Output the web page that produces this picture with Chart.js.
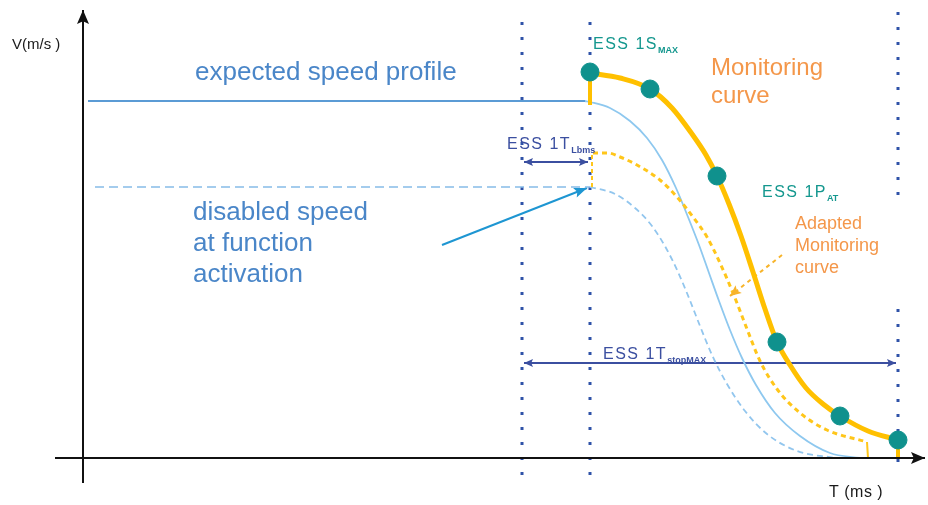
<!DOCTYPE html>
<html>
<head>
<meta charset="utf-8">
<script src="https://cdn.jsdelivr.net/npm/chart.js@4.4.1/dist/chart.umd.min.js"></script>
<style>
  html, body { margin: 0; padding: 0; background: #ffffff; }
  #wrap { width: 928px; height: 505px; position: relative; }
</style>
</head>
<body>
<div id="wrap"><canvas id="c"></canvas></div>
<script>
// Time axis (x) and speed axis (y) in drawing units, origin at the axis crossing.

// Expected speed profile: constant level, then braking curve
const expectedLevel = [[5, 357], [502, 357]];
const expectedCurve = [[502, 357], [507, 356], [527, 350], [547, 337], [564, 320], [579, 298],
  [593, 270], [605, 241], [616, 213], [626, 185], [636, 157], [647, 128], [659, 100],
  [673, 73], [692, 45], [717, 22], [747, 5], [777, 0]];

// Disabled speed at function activation
const disabledLevel = [[12, 271], [507, 271]];
const disabledCurve = [[507, 271], [532, 264], [552, 250], [569, 232], [583, 210], [595, 186],
  [606, 160], [617, 132], [629, 103], [644, 74], [662, 47], [684, 24], [714, 7], [752, 0]];

// Monitoring curve and its support points
const monitorStart = [[507, 353], [507, 385]];
const monitorCurve = [[507, 385], [537, 380], [567, 369], [589, 350], [609, 324], [623, 303],
  [634, 282], [646, 254], [658, 222], [670, 186], [682, 149], [694, 116], [707, 93],
  [723, 70], [740, 54], [757, 42], [785, 27], [815, 18]];
const monitorEnd = [[815, 18], [815, 0]];
const monitorPoints = [[507, 386], [567, 369], [634, 282], [694, 116], [757, 42], [815, 18]];

// Adapted monitoring curve
const adaptedStart = [[509, 271], [509, 305]];
const adaptedCurve = [[510, 305], [525, 305], [537, 301], [554, 293], [577, 278], [594, 261],
  [610, 241], [624, 221], [637, 195], [650, 165], [664, 129], [677, 97], [694, 69],
  [717, 45], [744, 28], [784, 16]];
const adaptedEnd = [[784, 16], [785, 0]];

// Time markers (vertical dotted guides)
const guideActivation = [[439, -17], [439, 440]];
const guideDelay = [[507, -17], [507, 443]];
const guideStopTop = [[815, 263], [815, 446]];
const guideStopBottom = [[815, -4], [815, 160]];

// Dimension spans
const spanDelay = [[441, 296], [505, 296]];
const spanStop = [[441, 95], [813, 95]];

// Pointer arrows
const pointerDisabled = [[359, 213], [504, 270]];
const pointerAdapted = [[699, 203], [647, 162]];

// Axes
const axisV = [[0, -25], [0, 448]];
const axisT = [[-28, 0], [842, 0]];

const pts = a => a.map(p => ({ x: p[0], y: p[1] }));

const FONT = '"Liberation Sans", Arial, sans-serif';
const BLUE_TXT = '#4a86c8';
const ORANGE = '#f4974a';
const TEAL = '#14978e';
const NAVY = '#3b4fa0';
const YELLOW = '#ffc000';
const GUIDE = '#2f52a8';

const texts = [
  { t: 'V(m/s )', x: -71, y: 413, size: 15, color: '#1a1a1a' },
  { t: 'T (ms )', x: 746, y: -35, size: 16, color: '#1a1a1a', ls: 0.5 },
  { t: 'expected speed profile', x: 112, y: 385, size: 26, color: BLUE_TXT },
  { t: 'disabled speed', x: 110, y: 245, size: 26, color: BLUE_TXT },
  { t: 'at function', x: 110, y: 214, size: 26, color: BLUE_TXT },
  { t: 'activation', x: 110, y: 183, size: 26, color: BLUE_TXT },
  { t: 'Monitoring', x: 628, y: 390, size: 24, color: ORANGE },
  { t: 'curve', x: 628, y: 362, size: 24, color: ORANGE },
  { t: 'Adapted', x: 712, y: 234, size: 18, color: ORANGE },
  { t: 'Monitoring', x: 712, y: 212, size: 18, color: ORANGE },
  { t: 'curve', x: 712, y: 190, size: 18, color: ORANGE },
  { t: 'ESS 1S', sub: 'MAX', x: 510, y: 413, size: 16, color: TEAL, ls: 1.5 },
  { t: 'ESS 1P', sub: 'AT', x: 679, y: 265, size: 16, color: TEAL, ls: 1.5 },
  { t: 'ESS 1T', sub: 'Lbms', x: 424, y: 313, size: 16, color: NAVY, ls: 1.5 },
  { t: 'ESS 1T', sub: 'stopMAX', x: 520, y: 103, size: 16, color: NAVY, ls: 1.5 }
];

function line(data, color, width, extra) {
  return Object.assign({
    data: pts(data), borderColor: color, borderWidth: width, pointRadius: 0,
    fill: false, tension: 0, borderCapStyle: 'butt'
  }, extra || {});
}

const smooth = { cubicInterpolationMode: 'monotone' };

const datasets = [
  line(axisV, '#111111', 2, { order: 1, arrow: { end: true, len: 14, hw: 6 } }),
  line(axisT, '#111111', 2, { order: 1, arrow: { end: true, len: 14, hw: 6 } }),
  line(monitorPoints, 'rgba(0,0,0,0)', 0, {
    order: 2, showLine: false, pointRadius: 9, pointBackgroundColor: '#0f918d',
    pointBorderColor: '#0f918d', pointBorderWidth: 1, pointStyle: 'circle'
  }),
  line(monitorStart, YELLOW, 4, { order: 3 }),
  line(monitorCurve, YELLOW, 5, Object.assign({ order: 3 }, smooth)),
  line(monitorEnd, YELLOW, 4, { order: 3 }),
  line(adaptedStart, '#ffc61a', 2, { order: 4, borderDash: [4, 3] }),
  line(adaptedCurve, '#ffc61a', 3, Object.assign({ order: 4, borderDash: [5, 4] }, smooth)),
  line(adaptedEnd, '#ffc61a', 2, { order: 4 }),
  line(expectedLevel, '#5b9bd5', 2, { order: 5 }),
  line(expectedCurve, '#8ec8ef', 1.8, Object.assign({ order: 5 }, smooth)),
  line(disabledLevel, '#86bce8', 1.6, { order: 6, borderDash: [9, 5] }),
  line(disabledCurve, '#92c6ee', 1.8, Object.assign({ order: 6, borderDash: [6, 4] }, smooth)),
  line(pointerDisabled, '#1e96d2', 2, { order: 7, arrow: { end: true, len: 13, hw: 5 } }),
  line(pointerAdapted, '#f7b42b', 2, { order: 7, borderDash: [4, 4], arrow: { end: true, len: 11, hw: 5 } }),
  line(spanDelay, NAVY, 2, { order: 7, arrow: { start: true, end: true, len: 9, hw: 4 } }),
  line(spanStop, NAVY, 2, { order: 7, arrow: { start: true, end: true, len: 9, hw: 4 } }),
  line(guideActivation, GUIDE, 3, { order: 8, borderDash: [3, 12] }),
  line(guideDelay, GUIDE, 3, { order: 8, borderDash: [3, 12] }),
  line(guideStopTop, GUIDE, 3, { order: 8, borderDash: [3, 12] }),
  line(guideStopBottom, GUIDE, 3, { order: 8, borderDash: [3, 12] })
];

function head(ctx, x1, y1, x2, y2, len, hw, color) {
  const a = Math.atan2(y2 - y1, x2 - x1);
  ctx.save();
  ctx.translate(x2, y2);
  ctx.rotate(a);
  ctx.beginPath();
  ctx.moveTo(0, 0);
  ctx.lineTo(-len, -hw);
  ctx.lineTo(-len * 0.8, 0);
  ctx.lineTo(-len, hw);
  ctx.closePath();
  ctx.fillStyle = color;
  ctx.fill();
  ctx.restore();
}

const arrowPlugin = {
  id: 'arrowHeads',
  afterDatasetsDraw(chart) {
    const ctx = chart.ctx;
    chart.data.datasets.forEach((ds, i) => {
      if (!ds.arrow) return;
      const el = chart.getDatasetMeta(i).data;
      const n = el.length;
      if (ds.arrow.end) head(ctx, el[n - 2].x, el[n - 2].y, el[n - 1].x, el[n - 1].y, ds.arrow.len, ds.arrow.hw, ds.borderColor);
      if (ds.arrow.start) head(ctx, el[1].x, el[1].y, el[0].x, el[0].y, ds.arrow.len, ds.arrow.hw, ds.borderColor);
    });
  }
};

const textPlugin = {
  id: 'diagramText',
  afterDraw(chart) {
    const ctx = chart.ctx;
    const sx = chart.scales.x, sy = chart.scales.y;
    ctx.save();
    ctx.textBaseline = 'middle';
    ctx.textAlign = 'left';
    texts.forEach(l => {
      const px = sx.getPixelForValue(l.x), py = sy.getPixelForValue(l.y);
      ctx.font = l.size + 'px ' + FONT;
      ctx.letterSpacing = (l.ls || 0) + 'px';
      ctx.fillStyle = l.color;
      ctx.fillText(l.t, px, py);
      if (l.sub) {
        const w = ctx.measureText(l.t).width;
        ctx.font = 'bold ' + Math.round(l.size * 0.55) + 'px ' + FONT;
        ctx.letterSpacing = '0px';
        ctx.fillText(l.sub, px + w, py + l.size * 0.35);
      }
    });
    ctx.restore();
  }
};

new Chart(document.getElementById('c'), {
  type: 'line',
  data: { datasets },
  options: {
    responsive: true,
    maintainAspectRatio: false,
    animation: false,
    layout: { padding: 0, autoPadding: false },
    plugins: { legend: { display: false }, tooltip: { enabled: false } },
    scales: {
      x: { type: 'linear', min: -83, max: 845, display: false },
      y: { type: 'linear', min: -47, max: 458, display: false }
    }
  },
  plugins: [arrowPlugin, textPlugin]
});
</script>
</body>
</html>
